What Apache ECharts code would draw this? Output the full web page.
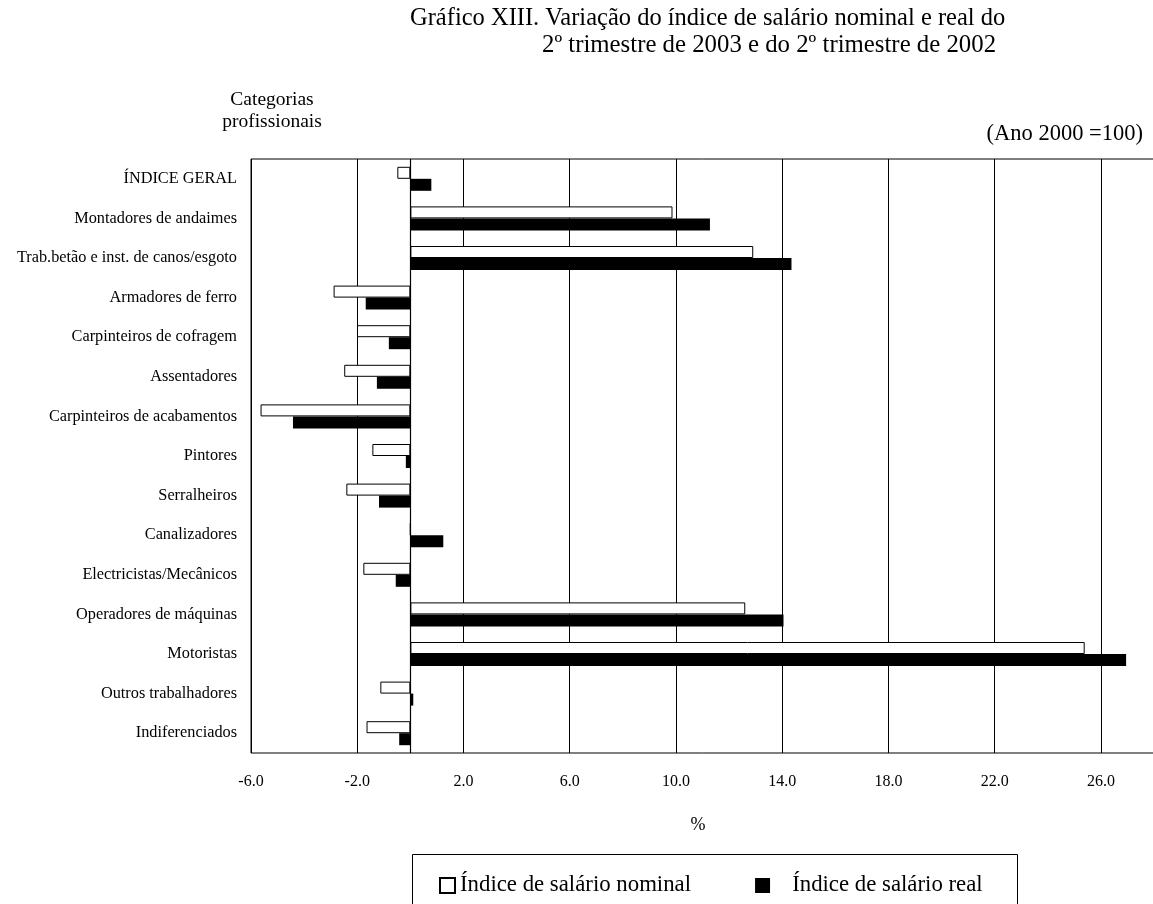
<!DOCTYPE html>
<html>
<head>
<meta charset="utf-8">
<script src="https://cdn.jsdelivr.net/npm/echarts@6/dist/echarts.min.js"></script>
<style>html,body{margin:0;padding:0;background:#fff;}#c{width:1153px;height:904px;}</style>
</head>
<body>
<div id="c"></div>
<script>
const categories = [
  'ÍNDICE GERAL',
  'Montadores de andaimes',
  'Trab.betão e inst. de canos/esgoto',
  'Armadores de ferro',
  'Carpinteiros de cofragem',
  'Assentadores',
  'Carpinteiros de acabamentos',
  'Pintores',
  'Serralheiros',
  'Canalizadores',
  'Electricistas/Mecânicos',
  'Operadores de máquinas',
  'Motoristas',
  'Outros trabalhadores',
  'Indiferenciados'
];
const nominal = [-0.49, 9.87, 12.91, -2.89, -2.01, -2.49, -5.64, -1.43, -2.41, 0, -1.77, 12.61, 25.39, -1.13, -1.65];
const real = [0.79, 11.28, 14.35, -1.68, -0.81, -1.26, -4.42, -0.17, -1.18, 1.24, -0.55, 14.05, 26.95, 0.11, -0.42];
const seriesNames = ['Índice de salário nominal', 'Índice de salário real'];
const axisMin = -6, axisMax = 28, axisStep = 4;

const FONT = '"Liberation Serif", "DejaVu Serif", serif';
const chart = echarts.init(document.getElementById('c'));
chart.setOption({
  animation: false,
  backgroundColor: '#fff',
  textStyle: { fontFamily: FONT, color: '#000' },
  grid: { left: 251, right: -1, top: 159, bottom: 151, show: true, borderColor: '#000', borderWidth: 1, containLabel: false, outerBoundsMode: 'none' },
  xAxis: {
    type: 'value', min: axisMin, max: axisMax, interval: axisStep,
    axisLine: { show: false }, axisTick: { show: false },
    axisLabel: { fontFamily: FONT, fontSize: 16, color: '#000', margin: 21, showMaxLabel: false, formatter: v => v.toFixed(1) },
    splitLine: { show: true, lineStyle: { color: '#000', width: 1 } }
  },
  yAxis: {
    type: 'category', inverse: true, data: categories,
    axisLine: { show: false }, axisTick: { show: false },
    axisLabel: { fontFamily: FONT, fontSize: 16.3, color: '#000', margin: 14 }
  },
  legend: {
    left: 434, top: 869, itemGap: 64, itemWidth: 15, itemHeight: 15, icon: 'rect',
    textStyle: { fontFamily: FONT, fontSize: 22.8, color: '#000' },
    formatter: name => name === seriesNames[1] ? '   ' + name : name,
    data: seriesNames
  },
  series: [
    {
      name: seriesNames[0], type: 'bar', data: nominal, barWidth: 12, barGap: '0%',
      itemStyle: { color: '#fff', borderColor: '#000', borderWidth: 1 },
      markLine: { silent: true, symbol: 'none', label: { show: false }, lineStyle: { color: '#000', type: 'solid', width: 1.2 }, data: [{ xAxis: 0 }] }
    },
    {
      name: seriesNames[1], type: 'bar', data: real, barWidth: 12, barGap: '0%',
      itemStyle: { color: '#000' }
    }
  ],
  graphic: [
    { type: 'text', left: 410, top: 6, style: { text: 'Gráfico XIII. Variação do índice de salário nominal e real do', font: '24.5px ' + FONT, fill: '#000' } },
    { type: 'text', left: 542, top: 33, style: { text: '2º trimestre de 2003 e do 2º trimestre de 2002', font: '24.8px ' + FONT, fill: '#000' } },
    { type: 'text', x: 272, y: 100, style: { text: 'Categorias', font: '19.5px ' + FONT, fill: '#000', align: 'center', verticalAlign: 'middle' } },
    { type: 'text', x: 272, y: 122, style: { text: 'profissionais', font: '19.5px ' + FONT, fill: '#000', align: 'center', verticalAlign: 'middle' } },
    { type: 'text', x: 1143, y: 134, style: { text: '(Ano 2000 =100)', font: '22.5px ' + FONT, fill: '#000', align: 'right', verticalAlign: 'middle' } },
    { type: 'text', x: 698, y: 825, style: { text: '%', font: '18px ' + FONT, fill: '#000', align: 'center', verticalAlign: 'middle' } },
    { type: 'rect', left: 410, top: 852, shape: { width: 605, height: 70 }, style: { fill: 'none', stroke: '#000', lineWidth: 1 }, z: -1 }
  ]
});
</script>
</body>
</html>
